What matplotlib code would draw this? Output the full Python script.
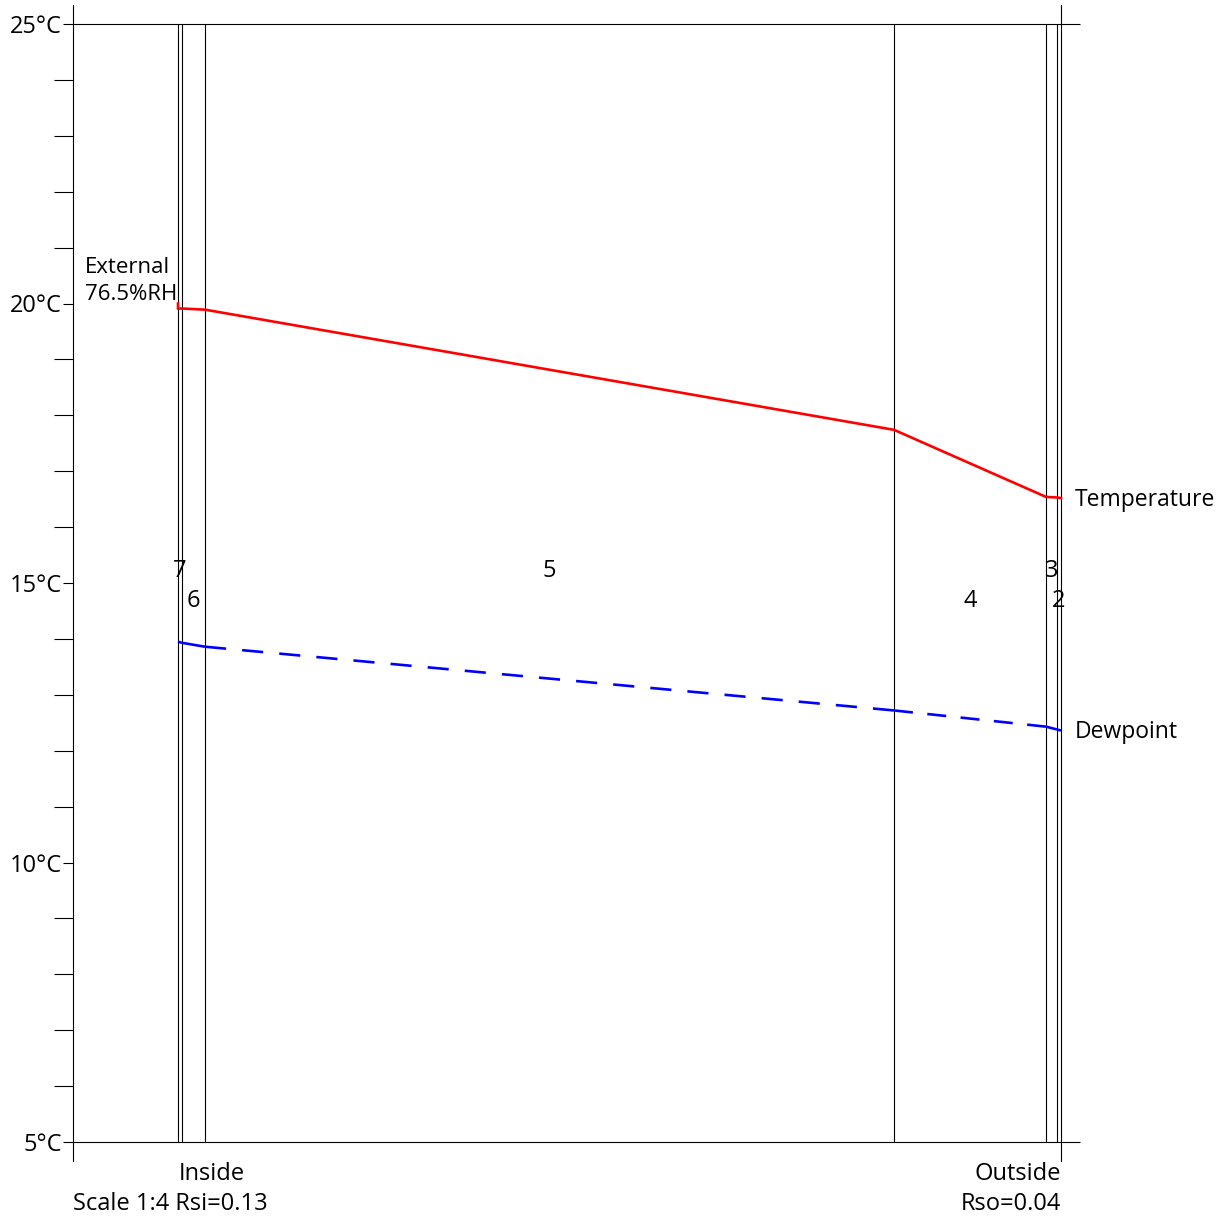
import numpy as np
import matplotlib
matplotlib.use("Agg")
import matplotlib.pyplot as plt

plt.rcParams['font.family'] = ['Open Sans', 'DejaVu Sans']

# layers from inside to outside (number, thickness in drawing units)
layer_names = ['7', '6', '5', '4', '3', '2']
layer_thick = [4, 23, 689, 152, 11, 4]

# temperatures at each interface, inside face -> outside face
temp_air_in = 20.0
temp_iface = [19.91, 19.91, 19.89, 17.74, 16.54, 16.53, 16.52]
dew_iface = [13.95, 13.93, 13.86, 12.72, 12.43, 12.38, 12.36]

y_ticks = [5, 10, 15, 20, 25]
y_tick_labels = ['5°C', '10°C', '15°C', '20°C', '25°C']
rh_text = 'External\n76.5%RH'
left_text = ['Inside', 'Scale 1:4 Rsi=0.13']
right_text = ['Outside', 'Rso=0.04']

FS = 17
W, H, DPI = 1218, 1216, 100
fig = plt.figure(figsize=(W / DPI, H / DPI), dpi=DPI)
ax = fig.add_axes([73 / W, (H - 1142) / H, (1080 - 73) / W, (1142 - 24) / H])

xpos = np.concatenate([[0], np.cumsum(layer_thick)])
ax.set_xlim(-105, 902)
ax.set_ylim(5, 25)
for s in ax.spines.values():
    s.set_visible(False)

px_y = 20 / 1118.0  # degrees per pixel
ext = 19 * px_y

# axis line and outer face line run past the frame
ax.plot([-105, -105], [5 - ext, 25 + ext], color='black', lw=0.8, clip_on=False)
ax.plot([xpos[-1], xpos[-1]], [5 - ext, 25 + ext], color='black', lw=0.8, clip_on=False)
ax.hlines([5, 25], -105, 902, color='black', lw=0.8, clip_on=False)
for xv in xpos[:-1]:
    ax.vlines(xv, 5, 25, color='black', lw=0.8, clip_on=False)

ax.set_xticks([])
ax.set_yticks(y_ticks)
ax.set_yticklabels(y_tick_labels, fontsize=FS)
ax.set_yticks(np.arange(6, 25), minor=True)
ax.tick_params(axis='y', which='major', length=7.2, width=0.8, pad=1)
ax.tick_params(axis='y', which='minor', length=13.7, width=0.8)

# temperature profile
tx = np.concatenate([[xpos[0]], xpos])
ty = [temp_air_in] + temp_iface
ax.plot(tx, ty, color='#ff0000', lw=1.9, solid_joinstyle='miter')

# dewpoint, dashes fitted to each segment
fig.canvas.draw()
lw_d = 1.9
for i in range(len(xpos) - 1):
    p0 = ax.transData.transform((xpos[i], dew_iface[i]))
    p1 = ax.transData.transform((xpos[i + 1], dew_iface[i + 1]))
    L = np.hypot(*(p1 - p0))
    dash, gap = 21.0, 16.0
    n = max(1, int(round((L + gap) / (dash + gap))))
    seg = [xpos[i], xpos[i + 1]], [dew_iface[i], dew_iface[i + 1]]
    if n == 1:
        ax.plot(*seg, color='#0000ff', lw=lw_d, solid_capstyle='butt')
    else:
        k = L / (n * dash + (n - 1) * gap)
        ls = (0, (dash * k * 0.72 / lw_d, gap * k * 0.72 / lw_d))
        ax.plot(*seg, color='#0000ff', lw=lw_d, linestyle=ls, dash_capstyle='butt')

# layer numbers, alternating heights
for i, name in enumerate(layer_names):
    yl = 15.22 if i % 2 == 0 else 14.68
    ax.text((xpos[i] + xpos[i + 1]) / 2, yl, name, ha='center', va='center', fontsize=FS)

ax.text(-93, 20.41, rh_text, ha='left', va='center', fontsize=16, linespacing=1.38)
ax.text(xpos[-1] + 14, temp_iface[-1] - 0.03, 'Temperature', ha='left', va='center', fontsize=16.5)
ax.text(xpos[-1] + 14, dew_iface[-1] - 0.03, 'Dewpoint', ha='left', va='center', fontsize=16.5)

ax.text(1, 4.43, left_text[0], ha='left', va='center', fontsize=FS, clip_on=False)
ax.text(-105, 3.89, left_text[1], ha='left', va='center', fontsize=FS, clip_on=False)
ax.text(xpos[-1], 4.43, right_text[0], ha='right', va='center', fontsize=FS, clip_on=False)
ax.text(xpos[-1], 3.89, right_text[1], ha='right', va='center', fontsize=FS, clip_on=False)

fig.savefig('out.png', dpi=DPI)
